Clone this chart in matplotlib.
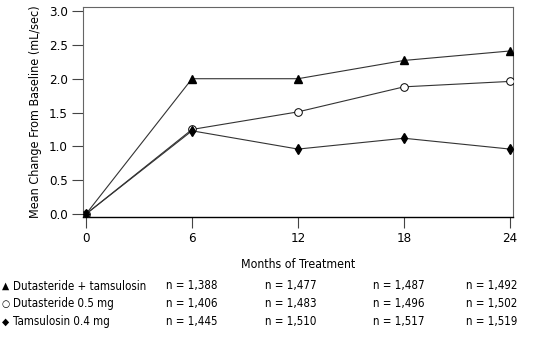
import matplotlib
matplotlib.use("Agg")
import matplotlib.pyplot as plt

plt.rcParams['font.family'] = ['DejaVu Sans']
plt.rcParams['font.stretch'] = 'condensed'

months = [0, 6, 12, 18, 24]
combo = [0.0, 2.0, 2.0, 2.27, 2.41]
dutasteride = [0.0, 1.25, 1.51, 1.88, 1.96]
tamsulosin = [0.0, 1.23, 0.96, 1.12, 0.96]

series_labels = ["Dutasteride + tamsulosin", "Dutasteride 0.5 mg", "Tamsulosin 0.4 mg"]
series_symbols = ["\u25B2", "\u25CB", "\u25C6"]
n_combo = ["1,388", "1,477", "1,487", "1,492"]
n_dut = ["1,406", "1,483", "1,496", "1,502"]
n_tam = ["1,445", "1,510", "1,517", "1,519"]

fig = plt.figure(figsize=(5.41, 3.37), dpi=100)
ax = fig.add_axes([83 / 541, 1 - 217 / 337, 430 / 541, 210 / 337])

lc = "#333333"
ax.plot(months, combo, color=lc, lw=0.8, marker="^", ms=5.5, mfc="black", mec="black", zorder=3)
ax.plot(months, dutasteride, color=lc, lw=0.8, marker="o", ms=5.5, mfc="white", mec="black", mew=0.7, zorder=3)
ax.plot(months, tamsulosin, color=lc, lw=0.8, marker="d", ms=5, mfc="black", mec="black", zorder=3)

ax.set_xlim(-0.17, 24.17)
ax.set_ylim(-0.044, 3.06)
ax.set_xticks(months)
ax.set_yticks([0, 0.5, 1.0, 1.5, 2.0, 2.5, 3.0])
ax.set_yticklabels(["0.0", "0.5", "1.0", "1.5", "2.0", "2.5", "3.0"])
ax.tick_params(axis="both", length=8, width=0.8, color="#444444", labelsize=9.5, pad=3)
for s in ax.spines.values():
    s.set_color("#666666")
    s.set_linewidth(0.8)
ax.spines["bottom"].set_color("black")
ax.spines["bottom"].set_linewidth(1.0)

ax.set_ylabel("Mean Change From Baseline (mL/sec)", fontsize=9, labelpad=5)
fig.text(298 / 541, 1 - 264 / 337, "Months of Treatment", ha="center", va="center", fontsize=8.8)

rows_y = [286, 304, 322]
col_x = [166, 265, 373, 466]
n_rows = [n_combo, n_dut, n_tam]
for i in range(3):
    y = 1 - rows_y[i] / 337
    fig.text(2 / 541, y, series_symbols[i], ha="left", va="center", fontsize=7.5)
    fig.text(13 / 541, y, series_labels[i], ha="left", va="center", fontsize=8.3)
    for j in range(4):
        fig.text(col_x[j] / 541, y, "n = " + n_rows[i][j], ha="left", va="center", fontsize=8.3)

fig.savefig("out.png", dpi=100)
